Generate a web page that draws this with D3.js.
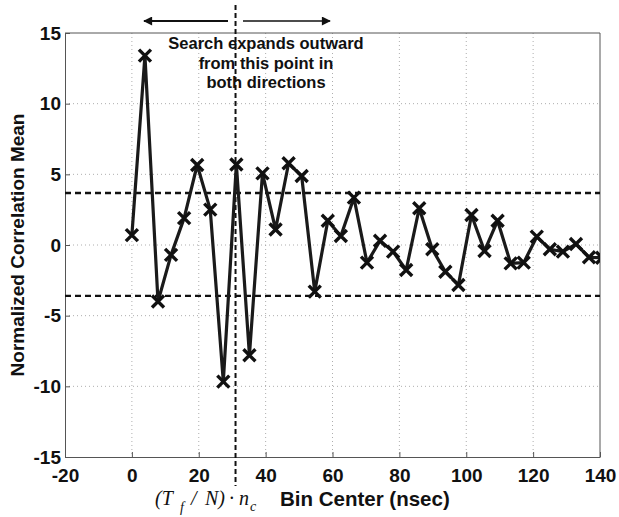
<!DOCTYPE html>
<html>
<head>
<meta charset="utf-8">
<script src="https://cdn.jsdelivr.net/npm/d3@7"></script>
<style>
  body { margin: 0; background: #fff; }
  svg { display: block; }
</style>
</head>
<body>
<div id="chart"></div>
<script>
// bin step in nsec (Tf / N)
const binStep = 3.90625;
// correlation means per bin
const corrMean = [
  0.7, 13.4, -4.0, -0.7, 1.9, 5.66, 2.5, -9.67, 5.7, -7.8,
  5.07, 1.1, 5.78, 4.88, -3.3, 1.72, 0.64, 3.35, -1.25, 0.3,
  -0.47, -1.77, 2.6, -0.3, -1.89, -2.83, 2.12, -0.42, 1.72, -1.3,
  -1.25, 0.59, -0.3, -0.47, 0.07, -0.87, -0.9
];
const thresholds = [3.68, -3.6];
const searchStart = 31;
const xTicks = [-20, 0, 20, 40, 60, 80, 100, 120, 140];
const yTicks = [-15, -10, -5, 0, 5, 10, 15];
const noteLines = ["Search expands outward", "from this point in", "both directions"];

const width = 619, height = 517;
const margin = { top: 33, right: 19, bottom: 60, left: 65 };

const svg = d3.select("#chart").append("svg")
  .attr("width", width)
  .attr("height", height);

const x = d3.scaleLinear().domain([-20, 140]).range([margin.left, width - margin.right]);
const y = d3.scaleLinear().domain([-15, 15]).range([height - margin.bottom, margin.top]);

const data = corrMean.map((v, i) => ({ x: i * binStep, y: v }));

svg.append("clipPath").attr("id", "plot-clip")
  .append("rect")
  .attr("x", x(-20)).attr("y", y(15))
  .attr("width", x(140) - x(-20)).attr("height", y(-15) - y(15));

// dotted grid
const grid = svg.append("g")
  .attr("stroke", "#999")
  .attr("stroke-width", 0.8)
  .attr("stroke-dasharray", "1,3");
grid.selectAll("line.gx").data(xTicks.slice(1, -1)).join("line")
  .attr("class", "gx")
  .attr("x1", d => x(d)).attr("x2", d => x(d))
  .attr("y1", y(15)).attr("y2", y(-15));
grid.selectAll("line.gy").data(yTicks.slice(1, -1)).join("line")
  .attr("class", "gy")
  .attr("x1", x(-20)).attr("x2", x(140))
  .attr("y1", d => y(d)).attr("y2", d => y(d));

// axes (matlab style: ticks inside, box around)
const font = "'Liberation Sans', Arial, sans-serif";
const fmt = d => String(d); // plain hyphen minus like the original
const xAxis = svg.append("g")
  .attr("transform", `translate(0,${y(-15)})`)
  .call(d3.axisBottom(x).tickValues(xTicks).tickFormat(fmt)
    .tickSizeInner(-5).tickSizeOuter(0).tickPadding(12));
const yAxis = svg.append("g")
  .attr("transform", `translate(${x(-20)},0)`)
  .call(d3.axisLeft(y).tickValues(yTicks).tickFormat(fmt)
    .tickSizeInner(-5).tickSizeOuter(0).tickPadding(4));
[xAxis, yAxis].forEach(g => {
  g.select(".domain").attr("stroke", "#555");
  g.selectAll(".tick line").attr("stroke", "#555");
  g.selectAll(".tick text")
    .attr("fill", "#111")
    .style("font", `bold 19px ${font}`);
});

svg.append("g")
  .attr("stroke", "#555")
  .attr("fill", "none")
  .call(g => g.append("line")
    .attr("x1", x(-20)).attr("x2", x(140)).attr("y1", y(15)).attr("y2", y(15)))
  .call(g => g.append("line")
    .attr("x1", x(140)).attr("x2", x(140)).attr("y1", y(15)).attr("y2", y(-15)));

// threshold lines
svg.append("g")
  .selectAll("line").data(thresholds).join("line")
  .attr("x1", x(-20)).attr("x2", x(140))
  .attr("y1", d => y(d)).attr("y2", d => y(d))
  .attr("stroke", "#111")
  .attr("stroke-width", 2.4)
  .attr("stroke-dasharray", "6,4");

// vertical search start line
svg.append("line")
  .attr("x1", x(searchStart)).attr("x2", x(searchStart))
  .attr("y1", 5).attr("y2", 486)
  .attr("stroke", "#111")
  .attr("stroke-width", 2)
  .attr("stroke-dasharray", "5,3");

// data line + x markers
const plot = svg.append("g").attr("clip-path", "url(#plot-clip)");
plot.append("path")
  .datum(data)
  .attr("fill", "none")
  .attr("stroke", "#1a1a1a")
  .attr("stroke-width", 3.2)
  .attr("stroke-linejoin", "round")
  .attr("d", d3.line().x(d => x(d.x)).y(d => y(d.y)));

const s = 6;
plot.selectAll("path.mark").data(data).join("path")
  .attr("class", "mark")
  .attr("d", d => {
    const cx = x(d.x), cy = y(d.y);
    return `M${cx - s},${cy - s}L${cx + s},${cy + s}M${cx - s},${cy + s}L${cx + s},${cy - s}`;
  })
  .attr("stroke", "#111")
  .attr("stroke-width", 3.4);

// arrows
svg.append("defs").append("marker")
  .attr("id", "head")
  .attr("viewBox", "0 0 10 10")
  .attr("refX", 9).attr("refY", 5)
  .attr("markerWidth", 14).attr("markerHeight", 9)
  .attr("markerUnits", "userSpaceOnUse")
  .attr("orient", "auto")
  .append("path").attr("d", "M0,0L10,5L0,10z").attr("fill", "#111");

svg.append("line")
  .attr("x1", 228).attr("x2", 144).attr("y1", 21).attr("y2", 21)
  .attr("stroke", "#111").attr("stroke-width", 2)
  .attr("marker-end", "url(#head)");
svg.append("line")
  .attr("x1", 243).attr("x2", 330).attr("y1", 21).attr("y2", 21)
  .attr("stroke", "#111").attr("stroke-width", 1.6)
  .attr("marker-end", "url(#head)");

// annotation
svg.append("text")
  .attr("text-anchor", "middle")
  .attr("fill", "#111")
  .style("font", `bold 16.5px ${font}`)
  .selectAll("tspan").data(noteLines).join("tspan")
  .attr("x", 266)
  .attr("y", (d, i) => 49 + i * 19.5)
  .text(d => d);

// y title
svg.append("text")
  .attr("transform", `translate(24,${y(0)}) rotate(-90)`)
  .attr("text-anchor", "middle")
  .attr("fill", "#111")
  .style("font", `bold 19px ${font}`)
  .text("Normalized Correlation Mean");

// x title: math part in italic serif, then label
const math = svg.append("text")
  .attr("y", 505)
  .attr("fill", "#111")
  .style("font", "italic 20px 'Liberation Serif', 'Times New Roman', serif");
const parts = [
  { t: "(T", x: 155, dy: 0, size: 20 },
  { t: "f", x: 180, dy: 7, size: 14 },
  { t: "/", x: 191, dy: -7, size: 20 },
  { t: "N)", x: 205, dy: 0, size: 20 },
  { t: "·", x: 229, dy: 0, size: 20 },
  { t: "n", x: 239, dy: 0, size: 20 },
  { t: "c", x: 250, dy: 6, size: 14 }
];
math.selectAll("tspan").data(parts).join("tspan")
  .attr("x", d => d.x)
  .attr("dy", d => d.dy)
  .style("font-size", d => d.size + "px")
  .text(d => d.t);

svg.append("text")
  .attr("x", 280).attr("y", 506)
  .attr("fill", "#111")
  .style("font", `bold 20.5px ${font}`)
  .text("Bin Center (nsec)");
</script>
</body>
</html>
